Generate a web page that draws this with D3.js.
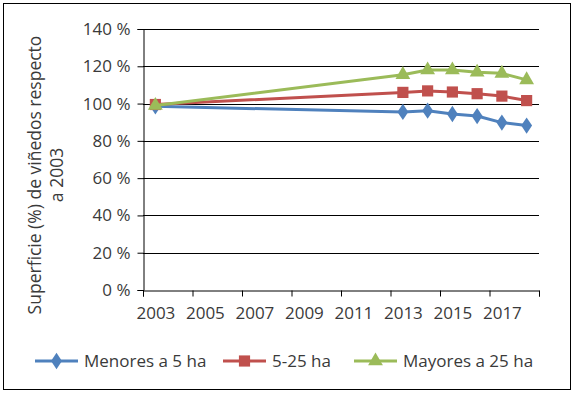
<!DOCTYPE html>
<html>
<head>
<meta charset="utf-8">
<script src="https://cdn.jsdelivr.net/npm/d3@7"></script>
<style>
  body { margin: 0; background: #fff; }
  text { font-family: "Open Sans", sans-serif; fill: #3a3a3a; }
</style>
</head>
<body>
<svg id="vis" width="575" height="395"></svg>
<script>
// data
const years = [2003, 2013, 2014, 2015, 2016, 2017, 2018];
const menores = [98.5, 95.5, 96.2, 94.4, 93.3, 89.8, 88.2];
const medianas = [99.5, 106, 106.8, 106.2, 105.3, 104, 101.6];
const mayores = [99, 115.5, 118, 118, 116.8, 116.2, 112.7];
const yearLabels = [2003, 2005, 2007, 2009, 2011, 2013, 2015, 2017];
const yTicks = [0, 20, 40, 60, 80, 100, 120, 140];
const seriesNames = ['Menores a 5 ha', '5-25 ha', 'Mayores a 25 ha'];
const titleLines = ['Superficie (%) de viñedos respecto', 'a 2003'];
const colors = ['#4F81BD', '#C0504D', '#9BBB59'];

const vis = d3.select('#vis');

// outer frame
vis.append('rect')
  .attr('x', 3.5).attr('y', 3.5)
  .attr('width', 567).attr('height', 386)
  .attr('fill', 'none').attr('stroke', '#000').attr('stroke-width', 1);

const x = d3.scaleLinear().domain([2002.5, 2018.5]).range([143, 539]);
const y = d3.scaleLinear().domain([0, 140]).range([290, 29]);

// gridlines
vis.append('g')
  .selectAll('line')
  .data(yTicks.filter(d => d > 0))
  .enter()
  .append('line')
  .attr('x1', 143).attr('x2', 539)
  .attr('y1', d => Math.round(y(d)) + 0.5)
  .attr('y2', d => Math.round(y(d)) + 0.5)
  .attr('stroke', '#000').attr('stroke-width', 1);

// y axis
const yAxis = vis.append('g')
  .attr('transform', 'translate(143.5,0)')
  .call(d3.axisLeft(y).tickValues(yTicks).tickSize(6).tickPadding(7)
    .tickFormat(d => d + ' %'));
yAxis.selectAll('text').style('font-size', '17px').style('font-family', '"Open Sans", sans-serif').attr('fill', '#3a3a3a');

// x axis: ticks between every two categories, labels on the odd years
const xAxis = vis.append('g')
  .attr('transform', 'translate(0,290.5)')
  .call(d3.axisBottom(x).tickValues(d3.range(2002.5, 2019, 2)).tickSize(6).tickFormat(''));
const xLabels = vis.append('g')
  .attr('transform', 'translate(0,290.5)')
  .call(d3.axisBottom(x).tickValues(yearLabels).tickSize(0).tickPadding(16).tickFormat(d3.format('d')));
xLabels.select('.domain').remove();
xLabels.selectAll('text').style('font-size', '17px').style('font-family', '"Open Sans", sans-serif').attr('fill', '#3a3a3a');

vis.selectAll('.domain, .tick line').attr('stroke', '#000');

// y title, two centred lines
titleLines.forEach((t, i) => {
  vis.append('text')
    .attr('transform', `translate(${41 + i * 22},175) rotate(-90)`)
    .attr('text-anchor', 'middle')
    .style('font-size', '17.5px')
    .text(t);
});

// markers
const symbols = [d3.symbolDiamond, d3.symbolSquare, d3.symbolTriangle];
const sizes = [85, 125, 95];

const series = [menores, medianas, mayores];
const line = d3.line().x((d, i) => x(years[i])).y(d => y(d));

series.forEach((s, k) => {
  const g = vis.append('g');
  g.append('path')
    .attr('d', line(s))
    .attr('fill', 'none')
    .attr('stroke', colors[k])
    .attr('stroke-width', 3)
    .attr('stroke-linejoin', 'round');
  g.selectAll('path.mk')
    .data(s)
    .enter()
    .append('path')
    .attr('class', 'mk')
    .attr('d', d3.symbol().type(symbols[k]).size(sizes[k]))
    .attr('transform', (d, i) => `translate(${x(years[i])},${y(d)})` + (k === 0 ? ' scale(1.1,0.95)' : ''))
    .attr('fill', colors[k]);
});

// legend
const legendX = [35, 223, 354];
const legend = vis.append('g');
seriesNames.forEach((name, k) => {
  const lx = legendX[k];
  legend.append('line')
    .attr('x1', lx).attr('x2', lx + 43)
    .attr('y1', 361).attr('y2', 361)
    .attr('stroke', colors[k]).attr('stroke-width', 3);
  legend.append('path')
    .attr('d', d3.symbol().type(symbols[k]).size(sizes[k]))
    .attr('transform', `translate(${lx + 21.5},361)` + (k === 0 ? ' scale(1.1,0.95)' : ''))
    .attr('fill', colors[k]);
  legend.append('text')
    .attr('x', lx + 49).attr('y', 367)
    .style('font-size', '17px')
    .text(name);
});
</script>
</body>
</html>
